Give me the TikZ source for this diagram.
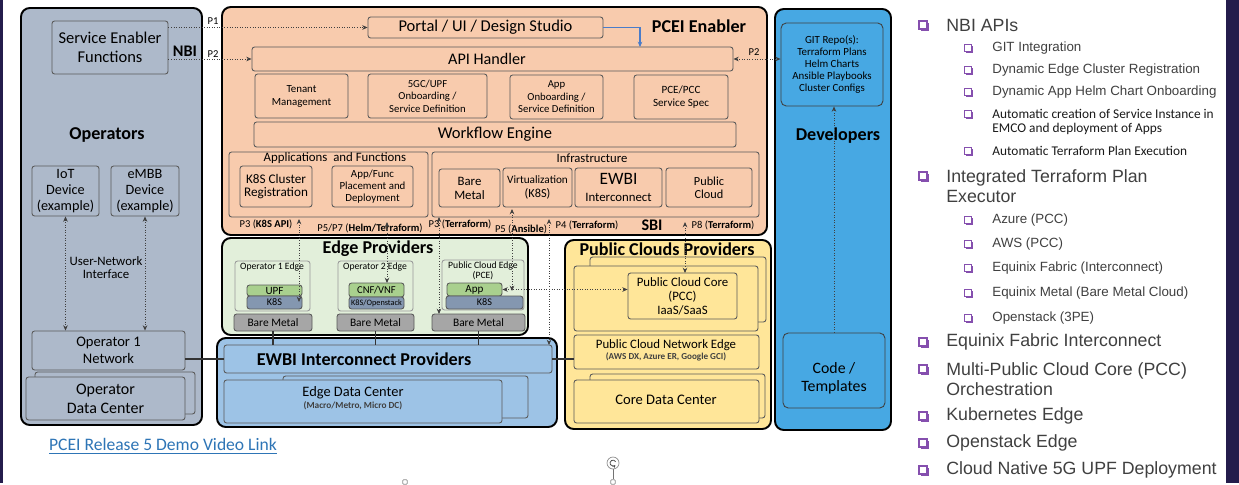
\documentclass[tikz,border=0pt]{standalone}
\usepackage{fontspec}
\setmainfont{Carlito}
\newfontfamily\listfont{Liberation Sans}
\usetikzlibrary{fit,arrows.meta,shadows}

\definecolor{navyband}{HTML}{241C4C}
\definecolor{opsgrey}{HTML}{ADB9CA}
\definecolor{pceipeach}{HTML}{F8CBAD}
\definecolor{edgegreen}{HTML}{E2EFDA}
\definecolor{upfgreen}{HTML}{A9D08E}
\definecolor{k8sblue}{HTML}{8497B0}
\definecolor{metalgrey}{HTML}{A6A6A6}
\definecolor{ewbiblue}{HTML}{9DC3E6}
\definecolor{cloudyellow}{HTML}{FFE699}
\definecolor{devblue}{HTML}{47A8E3}
\definecolor{linkblue}{HTML}{2E75B6}
\definecolor{arrowblue}{HTML}{4A7CC9}
\definecolor{chkpurple}{HTML}{7030A0}
\definecolor{listgrey}{HTML}{404040}

\newcommand{\fsz}[2]{\fontsize{#1}{#2}\selectfont}

\tikzset{
  panel/.style={draw=black, line width=1.1pt, rounded corners=5pt, inner sep=0pt},
  box/.style={draw=black!65, line width=0.5pt, rounded corners=1.5pt, inner sep=0pt},
  ebox/.style={draw=black!40, line width=0.5pt, rounded corners=1.5pt, inner sep=0pt},
  tx/.style={align=center, inner sep=0pt},
  ttl/.style={font=\fsz{10.3}{12}\bfseries},
  plabel/.style={font=\fsz{6}{7}, inner sep=0pt},
  dotto/.style={densely dotted, line width=0.45pt, black!75, -{Stealth[length=3pt,width=2.6pt]}},
  dotboth/.style={densely dotted, line width=0.45pt, black!75, {Stealth[length=3pt,width=2.6pt]}-{Stealth[length=3pt,width=2.6pt]}},
  link/.style={line width=0.6pt, black!80},
  handle/.style={draw=black!45, fill=white, line width=0.4pt, inner sep=0pt},
  chka/.style={draw=chkpurple!85, line width=0.75pt, fill=white, minimum size=0.16cm, inner sep=0pt,
    drop shadow={shadow xshift=0.9pt, shadow yshift=-0.9pt, fill=chkpurple!85, opacity=1}},
  chkb/.style={chka, minimum size=0.14cm},
  lone/.style={anchor=west, inner sep=0pt, text=listgrey, font=\listfont\fsz{10.1}{11.4}, align=left},
  ltwo/.style={anchor=west, inner sep=0pt, text=listgrey, font=\listfont\fsz{7.6}{8.5}},
  ltwoc/.style={anchor=west, inner sep=0pt, text=black!90, font=\fsz{7.6}{8}, align=left}
}

\begin{document}
\begin{tikzpicture}[x=0.02cm, y=-0.02cm]
% page and side bands
\fill[white] (0,0) rectangle (1239,483);
\fill[navyband] (0,0) rectangle (3,483);
\fill[navyband] (1226,0) rectangle (1239,483);

% operators
\node[panel, fill=opsgrey, fit={(21,8) (202,425)}] (ops) {};
\node[box, fill=opsgrey, fit={(52,21) (168,74)}] (sef) {};
\node[tx, font=\fsz{9.4}{10.8}] (seftext) at (sef) {Service Enabler\\Functions};
\node[font=\fsz{9.2}{11}\bfseries] (nbi) at (185,51) {NBI};
\node[ttl] (opstitle) at (107,135) {Operators};
\node[box, fill=opsgrey, fit={(32,166) (99,216)}] (iot) {};
\node[tx, font=\fsz{8.1}{9.1}] (iottext) at (iot) {IoT\\Device\\(example)};
\node[box, fill=opsgrey, fit={(111,166) (179,216)}] (embb) {};
\node[tx, font=\fsz{8.1}{9.1}] (embbtext) at (embb) {eMBB\\Device\\(example)};
\node[tx, font=\fsz{7.3}{7.4}] (uni) at (106,268) {User-Network\\Interface};
\node[box, fill=opsgrey, fit={(32,331) (185,370)}] (opnet) {};
\node[tx, font=\fsz{8.3}{9.6}] (opnettext) at (opnet) {Operator 1\\Network};
\node[box, fill=opsgrey, fit={(35,372) (195,414)}] (opdcback) {};
\node[box, fill=opsgrey, fit={(26,377) (185,420)}] (opdc) {};
\node[tx, font=\fsz{9.1}{10.8}] (opdctext) at (opdc) {Operator\\Data Center};
\draw[dotboth] (iot.south) -- (iot.south |- opnet.north);
\draw[dotboth] (embb.south) -- (embb.south |- opnet.north);

% pcei enabler
\node[panel, fill=pceipeach, fit={(222,7) (767,235)}] (pcei) {};
\node[box, fill=pceipeach, fit={(368,17) (603,38)}] (portal) {};
\node[tx, font=\fsz{9.4}{11}] (portaltext) at (portal) {Portal / UI / Design Studio};
\node[ttl] (pceititle) at (699,26) {PCEI Enabler};
\node[box, fill=pceipeach, fit={(252,47) (733,71)}] (api) {};
\node[tx, font=\fsz{9.2}{11}] (apitext) at (487,59) {API Handler};
\node[box, fill=pceipeach, fit={(255,74) (348,118)}] (tenant) {};
\node[tx, font=\fsz{6.2}{7.4}] (tenanttext) at (tenant) {Tenant\\Management};
\node[box, fill=pceipeach, fit={(368,74) (487,118)}] (upfon) {};
\node[tx, font=\fsz{6.1}{7.1}] (upfontext) at (upfon) {5GC/UPF\\Onboarding /\\Service Definition};
\node[box, fill=pceipeach, fit={(510,75) (603,119)}] (appon) {};
\node[tx, font=\fsz{6.1}{7.1}] (appontext) at (appon) {App\\Onboarding /\\Service Definition};
\node[box, fill=pceipeach, fit={(634,75) (728,119)}] (pcespec) {};
\node[tx, font=\fsz{6.3}{7.4}] (pcespectext) at (pcespec) {PCE/PCC\\Service Spec};
\node[box, fill=pceipeach, fit={(254,122) (736,147)}] (wfe) {};
\node[tx, font=\fsz{9.4}{11}] (wfetext) at (wfe) {Workflow Engine};
\node[box, fit={(229,152) (428,217)}] (appfn) {};
\node[font=\fsz{7.3}{8}] (appfntitle) at (335,158) {Applications\ \ and Functions};
\node[box, fit={(240,166) (312,207)}] (k8sreg) {};
\node[tx, font=\fsz{7.5}{7.6}] (k8sregtext) at (k8sreg) {K8S Cluster\\Registration};
\node[box, fit={(332,166) (413,207)}] (placedep) {};
\node[tx, font=\fsz{6.2}{6.8}] (placedeptext) at (placedep) {App/Func\\Placement and\\Deployment};
\node[box, fit={(432,152) (759,217)}] (infra) {};
\node[font=\fsz{7.2}{8}] (infratitle) at (592,158) {Infrastructure};
\node[box, fit={(439,169) (500,207)}] (bmetal) {};
\node[tx, font=\fsz{7.3}{8}] (bmetaltext) at (bmetal) {Bare\\Metal};
\node[box, fit={(503,168) (572,207)}] (virt) {};
\node[tx, font=\fsz{6.4}{8}] (virttext) at (virt) {Virtualization\\{\fsz{7}{8}(K8S)}};
\node[box, fit={(575,168) (662,207)}] (ewbi) {};
\node[tx, font=\fsz{7.3}{9.7}] (ewbitext) at (ewbi) {{\fsz{9.9}{9.7}EWBI}\\Interconnect};
\node[box, fit={(666,168) (752,207)}] (pubcloud) {};
\node[tx, font=\fsz{7}{7.6}] (pubcloudtext) at (pubcloud) {Public\\Cloud};
\node[font=\fsz{9.2}{11}\bfseries] (sbi) at (652,225) {SBI};
\node[plabel] (lpa) at (266,224) {P3 (\textbf{K8S API})};
\node[plabel] (lpb) at (370,228) {P5/P7 (\textbf{Helm/Terraform})};
\node[plabel] (lpc) at (460,224) {P3 (\textbf{Terraform})};
\node[plabel] (lpd) at (521,229) {P5 (\textbf{Ansible})};
\node[plabel] (lpe) at (587,225) {P4 (\textbf{Terraform})};
\node[plabel] (lpf) at (723,225) {P8 (\textbf{Terraform})};

% edge providers
\node[panel, fill=edgegreen, fit={(222,238) (528,335)}] (edgep) {};
\node[ttl] (edgetitle) at (378,249) {Edge Providers};
\node[ebox, fit={(235,261) (310,311)}] (opaedge) {};
\node[font=\fsz{5.5}{6.4}] (opaedgetitle) at (272,267) {Operator 1 Edge};
\node[ebox, fit={(338,261) (413,311)}] (opbedge) {};
\node[font=\fsz{5.5}{6.4}] (opbedgetitle) at (375,267) {Operator 2 Edge};
\node[ebox, fit={(442,260) (524,310)}] (pcedge) {};
\node[tx, font=\fsz{5.5}{5.9}] (pcedgetitle) at (483,271) {Public Cloud Edge\\(PCE)};
\node[box, fill=upfgreen, fit={(247,285) (302,296)}] (upf) {};
\node[tx, font=\fsz{6.3}{7}] (upftext) at (upf) {UPF};
\node[box, fill=k8sblue, fit={(247,296) (302,309)}] (k8sa) {};
\node[tx, font=\fsz{5.8}{7}] (k8satext) at (k8sa) {K8S};
\node[box, fill=upfgreen, fit={(349,283) (404,297)}] (cnf) {};
\node[tx, font=\fsz{6}{7}] (cnftext) at (cnf) {CNF/VNF};
\node[box, fill=k8sblue, fit={(349,297) (404,309)}] (k8sb) {};
\node[tx, font=\fsz{4.7}{5}] (k8sbtext) at (k8sb) {K8S/Openstack};
\node[box, fill=upfgreen, fit={(447,283) (502,296)}] (app) {};
\node[tx, font=\fsz{6.3}{7}] (apptext) at (app) {App};
\node[box, fill=k8sblue, fit={(446,296) (523,309)}] (k8sc) {};
\node[tx, font=\fsz{5.8}{7}] (k8sctext) at (k8sc) {K8S};
\node[box, fill=metalgrey, fit={(234,314) (312,331)}] (bma) {};
\node[tx, font=\fsz{6.5}{7}] (bmatext) at (bma) {Bare Metal};
\node[box, fill=metalgrey, fit={(337,314) (414,331)}] (bmb) {};
\node[tx, font=\fsz{6.5}{7}] (bmbtext) at (bmb) {Bare Metal};
\node[box, fill=metalgrey, fit={(432,314) (525,331)}] (bmc) {};
\node[tx, font=\fsz{6.5}{7}] (bmctext) at (bmc) {Bare Metal};

% ewbi interconnect providers
\node[panel, fill=ewbiblue, fit={(217,338) (557,427)}] (ewbip) {};
\node[box, fill=ewbiblue, fit={(224,345) (552,373)}] (ewbin) {};
\node[tx, ttl] (ewbintext) at (364,359) {EWBI Interconnect Providers};
\node[box, fill=ewbiblue, fit={(283,376) (528,418)}] (edcback) {};
\node[box, fill=ewbiblue, fit={(224,380) (502,423)}] (edc) {};
\node[font=\fsz{8.2}{9}] (edctitle) at (353,393) {Edge Data Center};
\node[font=\fsz{5.3}{6}\bfseries, text=black!75] (edcsub) at (353,406) {(Macro/Metro, Micro DC)};
\draw[link] (bma.south) -- (bma.south |- ewbin.north);
\draw[link] (bmb.south) -- (bmb.south |- ewbin.north);
\draw[link] (bmc.south) -- (bmc.south |- ewbin.north);

% public clouds providers
\node[panel, fill=cloudyellow, fit={(565,240) (771,429)}] (pcp) {};
\node[ttl] (pcptitle) at (667,249) {Public Clouds Providers};
\node[box, fill=cloudyellow, fit={(590,257) (766,322)}] (pccback) {};
\node[box, fill=cloudyellow, fit={(574,266) (758,331)}] (pccfront) {};
\node[box, fill=cloudyellow, fit={(628,273) (737,319)}] (pcc) {};
\node[tx, font=\fsz{7.3}{8}] (pcctext) at (pcc) {Public Cloud Core\\(PCC)\\IaaS/SaaS};
\node[box, fill=cloudyellow, fit={(574,335) (759,369)}] (pcne) {};
\node[font=\fsz{7.3}{8}] (pcnetitle) at (666,345) {Public Cloud Network Edge};
\node[font=\fsz{5.2}{6}\bfseries, text=black!75] (pcnesub) at (666,357) {(AWS DX, Azure ER, Google GCI)};
\node[box, fill=cloudyellow, fit={(590,374) (765,418)}] (coreback) {};
\node[box, fill=cloudyellow, fit={(574,380) (759,423)}] (coredc) {};
\node[tx, font=\fsz{8.3}{9}] (coredctext) at (666,400) {Core Data Center};

% developers
\node[panel, fill=devblue, fit={(775,9) (891,430)}] (dev) {};
\node[box, draw=black!75, rounded corners=3pt, fill=devblue, fit={(781,23) (883,106)}] (git) {};
\node[tx, font=\fsz{6.2}{6.9}] (gittext) at (git) {GIT Repo(s):\\Terraform Plans\\Helm Charts\\Ansible Playbooks\\Cluster Configs};
\node[ttl] (devtitle) at (838,136) {Developers};
\node[box, draw=black!75, rounded corners=3pt, fill=devblue, fit={(783,333) (885,408)}] (code) {};
\node[tx, font=\fsz{9}{10.3}] (codetext) at (834,378) {Code /\\Templates};

% interfaces
\node[plabel] (lpone) at (213,21) {P1};
\node[plabel] (lptwo) at (213,54) {P2};
\node[plabel] (lptwor) at (754,52) {P2};
\draw[dotto] (sef.east |- portal.west) -- (portal.west);
\draw[dotto] (sef.east |- api.west) -- (api.west);
\draw[dotboth] (api.east) -- (api.east -| git.west);
\coordinate (apiin) at (640,47);
\draw[arrowblue, line width=0.6pt, -{Stealth[length=3pt,width=2.6pt]}] (portal.east) -| (apiin);
\draw[dotto] (code.north) -- (code.north |- git.south);

% sbi links
\coordinate (sa) at (299,219); \coordinate (sab) at (299,302);
\coordinate (sb) at (387,222); \coordinate (sbb) at (387,283);
\coordinate (sc) at (439,217); \coordinate (scb) at (439,314);
\coordinate (sd) at (512,209); \coordinate (sdb) at (512,291);
\coordinate (se) at (549,219); \coordinate (seb) at (549,345);
\coordinate (sf) at (685,222); \coordinate (sfb) at (685,273);
\draw[dotboth] (sa) -- (sab);
\draw[dotboth] (sb) -- (sbb);
\draw[dotboth] (sc) -- (scb);
\draw[dotboth] (sd) -- (sdb);
\draw[dotboth] (se) -- (seb);
\draw[dotboth] (sf) -- (sfb);
\draw[dotboth] (app.east) -- (app.east -| pcc.west);
\draw[link] (opnet.east |- ewbin.west) -- (ewbin.west);
\draw[link] (ewbin.east) -- (ewbin.east -| pcne.west);

% demo link
\node[font=\fsz{10}{12}, text=linkblue] (demolink) at (163,446) {\underline{PCEI Release 5 Demo Video Link}};

% selection handles under the slide
\node[handle, circle, minimum size=0.24cm] (rothandle) at (613,463) {};
\draw[black!70, line width=0.45pt, -{Stealth[length=1.6pt,width=1.8pt]}] (rothandle.center) ++(2.6,-1.4) arc[start angle=-30, end angle=-320, radius=3];
\node[handle, minimum size=0.09cm, rounded corners=0.5pt] (hmid) at (613,482) {};
\node[handle, minimum size=0.09cm, rounded corners=0.5pt] (hleft) at (405,482) {};
\draw[black!55, line width=0.4pt] (rothandle.south) -- (hmid.north);

% feature list
\node[chka] (ca) at (923,25) {};  \node[lone] (ta) at (946,25) {NBI APIs};
\node[chkb] (caa) at (968,48) {}; \node[ltwo] (taa) at (992,48) {GIT Integration};
\node[chkb] (cab) at (968,70) {}; \node[ltwo] (tab) at (992,70) {Dynamic Edge Cluster Registration};
\node[chkb] (cac) at (968,92) {}; \node[ltwo] (tac) at (992,92) {Dynamic App Helm Chart Onboarding};
\node[chkb] (cad) at (968,114) {}; \node[ltwoc] (tad) at (992,122) {Automatic creation of Service Instance in\\EMCO and deployment of Apps};
\node[chkb] (cae) at (968,151) {}; \node[ltwoc] (tae) at (992,151) {Automatic Terraform Plan Execution};
\node[chka] (cb) at (923,176) {}; \node[lone] (tb) at (946,186) {Integrated Terraform Plan\\Executor};
\node[chkb] (cba) at (968,220) {}; \node[ltwo] (tba) at (992,220) {Azure (PCC)};
\node[chkb] (cbb) at (968,244) {}; \node[ltwo] (tbb) at (992,244) {AWS (PCC)};
\node[chkb] (cbc) at (968,268) {}; \node[ltwo] (tbc) at (992,268) {Equinix Fabric (Interconnect)};
\node[chkb] (cbd) at (968,293) {}; \node[ltwo] (tbd) at (992,293) {Equinix Metal (Bare Metal Cloud)};
\node[chkb] (cbe) at (968,318) {}; \node[ltwo] (tbe) at (992,318) {Openstack (3PE)};
\node[chka] (cc) at (923,342) {}; \node[lone] (tc) at (946,342) {Equinix Fabric Interconnect};
\node[chka] (cd) at (923,369) {}; \node[lone] (td) at (946,379) {Multi-Public Cloud Core (PCC)\\Orchestration};
\node[chka] (ce) at (923,416) {}; \node[lone] (te) at (946,416) {Kubernetes Edge};
\node[chka] (cf) at (923,443) {}; \node[lone] (tf) at (946,443) {Openstack Edge};
\node[chka] (cg) at (923,470) {}; \node[lone] (tg) at (946,470) {Cloud Native 5G UPF Deployment};
\end{tikzpicture}
\end{document}
